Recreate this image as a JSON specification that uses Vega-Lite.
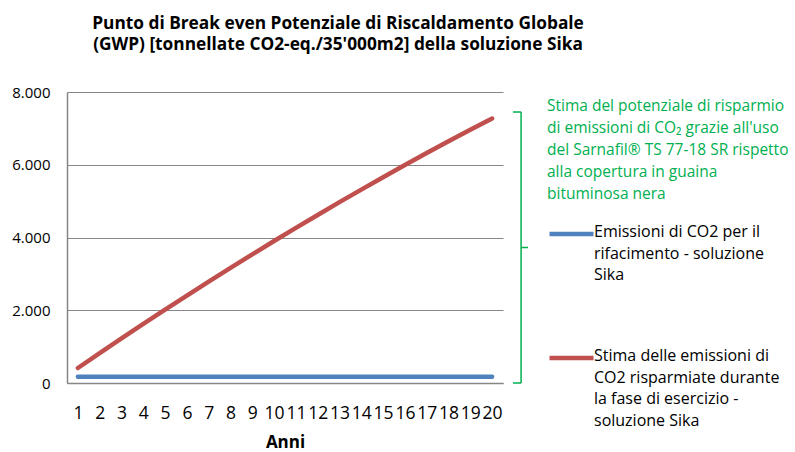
{
  "$schema": "https://vega.github.io/schema/vega-lite/v6.json",
  "width": 436,
  "height": 291,
  "autosize": {"type": "none"},
  "padding": {"left": 67, "top": 92, "right": 292, "bottom": 69},
  "background": "white",
  "title": {
    "text": ["Punto di Break even Potenziale di Riscaldamento Globale", "(GWP) [tonnellate CO2-eq./35'000m2] della soluzione Sika"],
    "anchor": "middle",
    "dx": 53,
    "offset": 32,
    "font": "Open Sans",
    "fontSize": 17.3,
    "fontWeight": "bold",
    "lineHeight": 21,
    "color": "#000000"
  },
  "config": {
    "view": {"stroke": null},
    "font": "Open Sans",
    "axis": {"labelOverlap": false}
  },
  "resolve": {"axis": {"x": "independent", "y": "independent"}},
  "layer": [
    {
      "data": {
        "values": [
          {"anno": 1, "valore": 170, "serie": "Emissioni di CO2 per il rifacimento - soluzione Sika"},
          {"anno": 2, "valore": 170, "serie": "Emissioni di CO2 per il rifacimento - soluzione Sika"},
          {"anno": 3, "valore": 170, "serie": "Emissioni di CO2 per il rifacimento - soluzione Sika"},
          {"anno": 4, "valore": 170, "serie": "Emissioni di CO2 per il rifacimento - soluzione Sika"},
          {"anno": 5, "valore": 170, "serie": "Emissioni di CO2 per il rifacimento - soluzione Sika"},
          {"anno": 6, "valore": 170, "serie": "Emissioni di CO2 per il rifacimento - soluzione Sika"},
          {"anno": 7, "valore": 170, "serie": "Emissioni di CO2 per il rifacimento - soluzione Sika"},
          {"anno": 8, "valore": 170, "serie": "Emissioni di CO2 per il rifacimento - soluzione Sika"},
          {"anno": 9, "valore": 170, "serie": "Emissioni di CO2 per il rifacimento - soluzione Sika"},
          {"anno": 10, "valore": 170, "serie": "Emissioni di CO2 per il rifacimento - soluzione Sika"},
          {"anno": 11, "valore": 170, "serie": "Emissioni di CO2 per il rifacimento - soluzione Sika"},
          {"anno": 12, "valore": 170, "serie": "Emissioni di CO2 per il rifacimento - soluzione Sika"},
          {"anno": 13, "valore": 170, "serie": "Emissioni di CO2 per il rifacimento - soluzione Sika"},
          {"anno": 14, "valore": 170, "serie": "Emissioni di CO2 per il rifacimento - soluzione Sika"},
          {"anno": 15, "valore": 170, "serie": "Emissioni di CO2 per il rifacimento - soluzione Sika"},
          {"anno": 16, "valore": 170, "serie": "Emissioni di CO2 per il rifacimento - soluzione Sika"},
          {"anno": 17, "valore": 170, "serie": "Emissioni di CO2 per il rifacimento - soluzione Sika"},
          {"anno": 18, "valore": 170, "serie": "Emissioni di CO2 per il rifacimento - soluzione Sika"},
          {"anno": 19, "valore": 170, "serie": "Emissioni di CO2 per il rifacimento - soluzione Sika"},
          {"anno": 20, "valore": 170, "serie": "Emissioni di CO2 per il rifacimento - soluzione Sika"},
          {"anno": 1, "valore": 412, "serie": "Stima delle emissioni di CO2 risparmiate durante la fase di esercizio  - soluzione Sika"},
          {"anno": 2, "valore": 821, "serie": "Stima delle emissioni di CO2 risparmiate durante la fase di esercizio  - soluzione Sika"},
          {"anno": 3, "valore": 1225, "serie": "Stima delle emissioni di CO2 risparmiate durante la fase di esercizio  - soluzione Sika"},
          {"anno": 4, "valore": 1623, "serie": "Stima delle emissioni di CO2 risparmiate durante la fase di esercizio  - soluzione Sika"},
          {"anno": 5, "valore": 2016, "serie": "Stima delle emissioni di CO2 risparmiate durante la fase di esercizio  - soluzione Sika"},
          {"anno": 6, "valore": 2404, "serie": "Stima delle emissioni di CO2 risparmiate durante la fase di esercizio  - soluzione Sika"},
          {"anno": 7, "valore": 2787, "serie": "Stima delle emissioni di CO2 risparmiate durante la fase di esercizio  - soluzione Sika"},
          {"anno": 8, "valore": 3164, "serie": "Stima delle emissioni di CO2 risparmiate durante la fase di esercizio  - soluzione Sika"},
          {"anno": 9, "valore": 3536, "serie": "Stima delle emissioni di CO2 risparmiate durante la fase di esercizio  - soluzione Sika"},
          {"anno": 10, "valore": 3903, "serie": "Stima delle emissioni di CO2 risparmiate durante la fase di esercizio  - soluzione Sika"},
          {"anno": 11, "valore": 4264, "serie": "Stima delle emissioni di CO2 risparmiate durante la fase di esercizio  - soluzione Sika"},
          {"anno": 12, "valore": 4620, "serie": "Stima delle emissioni di CO2 risparmiate durante la fase di esercizio  - soluzione Sika"},
          {"anno": 13, "valore": 4971, "serie": "Stima delle emissioni di CO2 risparmiate durante la fase di esercizio  - soluzione Sika"},
          {"anno": 14, "valore": 5316, "serie": "Stima delle emissioni di CO2 risparmiate durante la fase di esercizio  - soluzione Sika"},
          {"anno": 15, "valore": 5656, "serie": "Stima delle emissioni di CO2 risparmiate durante la fase di esercizio  - soluzione Sika"},
          {"anno": 16, "valore": 5991, "serie": "Stima delle emissioni di CO2 risparmiate durante la fase di esercizio  - soluzione Sika"},
          {"anno": 17, "valore": 6321, "serie": "Stima delle emissioni di CO2 risparmiate durante la fase di esercizio  - soluzione Sika"},
          {"anno": 18, "valore": 6645, "serie": "Stima delle emissioni di CO2 risparmiate durante la fase di esercizio  - soluzione Sika"},
          {"anno": 19, "valore": 6964, "serie": "Stima delle emissioni di CO2 risparmiate durante la fase di esercizio  - soluzione Sika"},
          {"anno": 20, "valore": 7270, "serie": "Stima delle emissioni di CO2 risparmiate durante la fase di esercizio  - soluzione Sika"}
        ]
      },
      "mark": {"type": "line", "strokeWidth": 4.5, "strokeCap": "round", "strokeJoin": "round"},
      "encoding": {
        "x": {
          "field": "anno",
          "type": "quantitative",
          "scale": {"domain": [0.5, 20.5], "nice": false, "zero": false},
          "axis": {
            "title": "Anni",
            "values": [1,2,3,4,5,6,7,8,9,10,11,12,13,14,15,16,17,18,19,20],
            "format": "d",
            "grid": false,
            "ticks": false,
            "labelOverlap": false,
            "labelFlush": false,
            "labelPadding": 21,
            "labelFont": "Open Sans",
            "labelFontSize": 17.5,
            "labelColor": "#000000",
            "titleFont": "Open Sans",
            "titleFontSize": 17,
            "titleFontWeight": "bold",
            "titleColor": "#000000",
            "titlePadding": 13,
            "domainColor": "#868686",
            "domainWidth": 1.5
          }
        },
        "y": {
          "field": "valore",
          "type": "quantitative",
          "scale": {"domain": [0, 8000], "nice": false},
          "axis": {
            "title": null,
            "values": [0, 2000, 4000, 6000, 8000],
            "labelExpr": "replace(format(datum.value, ','), ',', '.')",
            "ticks": false,
            "labelPadding": 17,
            "labelFont": "Open Sans",
            "labelFontSize": 15,
            "labelColor": "#000000",
            "gridColor": "#868686",
            "gridWidth": 1.2,
            "domainColor": "#868686",
            "domainWidth": 1.5
          }
        },
        "color": {
          "field": "serie",
          "type": "nominal",
          "scale": {"range": ["#4F81BD", "#C0504D"]},
          "legend": {
            "orient": "none",
            "legendX": 480,
            "legendY": 7,
            "padding": 0,
            "title": ["Stima del potenziale di risparmio", "di emissioni di CO₂ grazie all'uso", "del Sarnafil® TS 77-18 SR rispetto", "alla copertura in guaina", "bituminosa nera"],
            "titleColor": "#00B050",
            "titleFont": "Open Sans",
            "titleFontSize": 15.5,
            "titleFontWeight": "normal",
            "titleLineHeight": 22,
            "titleAnchor": "start",
            "titlePadding": 7,
            "titleLimit": 400,
            "symbolType": "stroke",
            "symbolSize": 1936,
            "symbolStrokeWidth": 4.5,
            "labelFont": "Open Sans",
            "labelFontSize": 16,
            "labelColor": "#000000",
            "labelOffset": -2,
            "labelLimit": 400,
            "labelBaseline": "top",
            "rowPadding": 50,
            "labelExpr": "indexof(datum.label, 'Emissioni') == 0 ? ['Emissioni di CO2 per il', 'rifacimento - soluzione', 'Sika'] : ['Stima delle emissioni di', 'CO2 risparmiate durante', 'la fase di esercizio  -', 'soluzione Sika']",
            "encode": {
              "labels": {"update": {"dy": {"value": -10}, "lineHeight": {"value": 21.5}}}
            }
          }
        }
      }
    },
    {
      "data": {"values": [{}]},
      "mark": {"type": "rule", "color": "#00B050", "strokeWidth": 1.5},
      "encoding": {
        "x": {"datum": 21.33, "type": "quantitative", "axis": null},
        "y": {"datum": 0, "type": "quantitative", "axis": null},
        "y2": {"datum": 7450}
      }
    },
    {
      "data": {"values": [{}]},
      "mark": {"type": "rule", "color": "#00B050", "strokeWidth": 1.5},
      "encoding": {
        "x": {"datum": 20.96, "type": "quantitative", "axis": null},
        "x2": {"datum": 21.33},
        "y": {"datum": 7450, "type": "quantitative", "axis": null}
      }
    },
    {
      "data": {"values": [{}]},
      "mark": {"type": "rule", "color": "#00B050", "strokeWidth": 1.5},
      "encoding": {
        "x": {"datum": 20.96, "type": "quantitative", "axis": null},
        "x2": {"datum": 21.33},
        "y": {"datum": 0, "type": "quantitative", "axis": null}
      }
    },
    {
      "data": {"values": [{}]},
      "mark": {"type": "rule", "color": "#00B050", "strokeWidth": 1.5},
      "encoding": {
        "x": {"datum": 21.33, "type": "quantitative", "axis": null},
        "x2": {"datum": 21.65},
        "y": {"datum": 3725, "type": "quantitative", "axis": null}
      }
    }
  ]
}
